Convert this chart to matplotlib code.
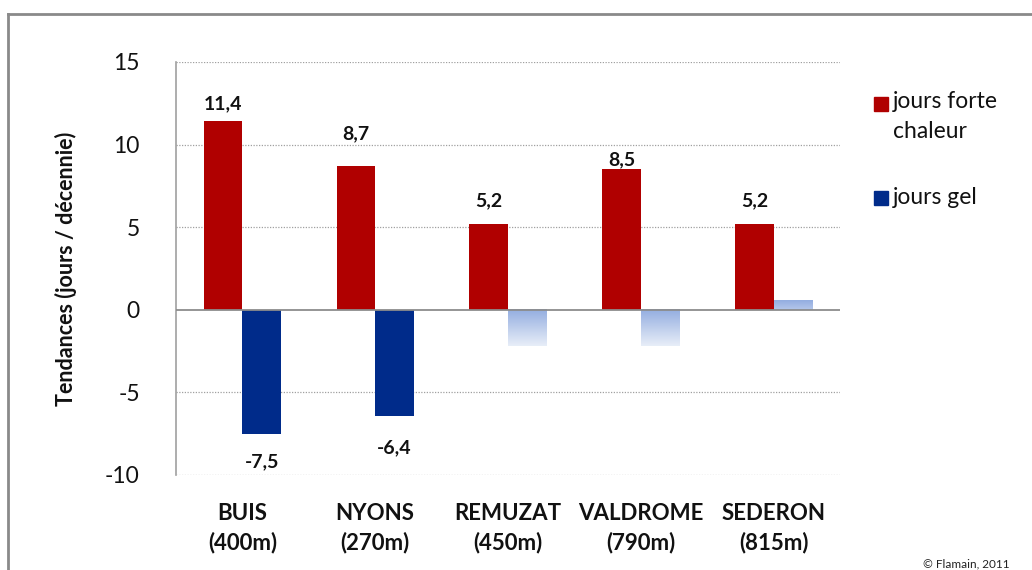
import numpy as np
import matplotlib
matplotlib.use("Agg")
import matplotlib.pyplot as plt
from matplotlib.patches import Rectangle
from matplotlib.lines import Line2D
from matplotlib.colors import LinearSegmentedColormap

plt.rcParams['font.family'] = ['Lato', 'DejaVu Sans']

categories = ["BUIS\n(400m)", "NYONS\n(270m)", "REMUZAT\n(450m)", "VALDROME\n(790m)", "SEDERON\n(815m)"]
chaleur = [11.4, 8.7, 5.2, 8.5, 5.2]
gel = [-7.5, -6.4, -2.2, -2.2, 0.6]
gel_significant = [True, True, False, False, False]
chaleur_labels = ["11,4", "8,7", "5,2", "8,5", "5,2"]
gel_labels = ["-7,5", "-6,4", "", "", ""]
# label offsets in points (vertical)
chaleur_label_off = [13, 23, 16.5, 7, 16.5]
gel_label_off = [-20, -23, 0, 0, 0]

RED = "#b00000"
BLUE = "#002b8a"

fig = plt.figure(figsize=(10.32, 5.70), dpi=100)
ax = fig.add_axes([0.1705, 0.1667, 0.6434, 0.7246])

x = np.arange(len(categories))
w = 0.29

for yv in [15, 10, 5, -5, -10]:
    ax.axhline(yv, color="#a0a0a0", lw=0.9, ls=(0, (1, 1.2)), zorder=0)
ax.axhline(0, color="#8c8c8c", lw=1.3, zorder=3)

ax.bar(x - w / 2, chaleur, width=w, color=RED, zorder=2)

grad = np.linspace(0, 1, 256).reshape(-1, 1)
cmap = LinearSegmentedColormap.from_list("g", ["#e8eef8", "#93ade0"])
for xi, v, sig in zip(x, gel, gel_significant):
    if sig:
        ax.bar(xi + w / 2, v, width=w, color=BLUE, zorder=2)
    else:
        x0, x1 = xi, xi + w
        if v < 0:
            ax.imshow(grad, extent=(x0, x1, v, 0), origin="lower", cmap=cmap,
                      aspect="auto", zorder=2)
        else:
            ax.imshow(grad, extent=(x0, x1, 0, v), origin="lower", cmap=cmap,
                      aspect="auto", zorder=2, vmin=-1.5, vmax=1)
ax.set_xlim(-0.5, len(categories) - 0.5)
ax.set_ylim(-10, 15)

for xi, v, lab, off in zip(x, chaleur, chaleur_labels, chaleur_label_off):
    ax.annotate(lab, (xi - w / 2, v), xytext=(0, off), textcoords="offset points",
                ha="center", va="center", fontsize=14, fontweight="bold", color="#111111")
for xi, v, lab, off in zip(x, gel, gel_labels, gel_label_off):
    if lab:
        ax.annotate(lab, (xi + w / 2, v), xytext=(0, off), textcoords="offset points",
                    ha="center", va="center", fontsize=14, fontweight="bold", color="#111111")

ax.set_xticks(x)
ax.set_xticklabels(categories, fontsize=16, fontweight="bold", color="#111111", linespacing=1.45)
ax.set_yticks([-10, -5, 0, 5, 10, 15])
ax.set_yticklabels(["-10", "-5", "0", "5", "10", "15"], fontsize=16.5, color="#111111")
ax.tick_params(axis="x", length=0, pad=20)
ax.tick_params(axis="y", length=0, pad=26)
for s in ["top", "right", "bottom"]:
    ax.spines[s].set_visible(False)
ax.spines["left"].set_color("#a0a0a0")
ax.spines["left"].set_linewidth(1.2)

ax.set_ylabel("Tendances (jours / décennie)", fontsize=15.5, fontweight="bold", color="#111111", labelpad=20)

# legend (manual)
fig.patches.append(Rectangle((874 / 1032, 1 - 111 / 570), 14 / 1032, 14 / 570,
                             transform=fig.transFigure, color=RED, figure=fig))
fig.text(893 / 1032, 1 - 91 / 570, "jours forte\nchaleur", fontsize=16.5, color="#111111",
         va="top", ha="left", linespacing=1.55)
fig.patches.append(Rectangle((874 / 1032, 1 - 205 / 570), 14 / 1032, 14 / 570,
                             transform=fig.transFigure, color=BLUE, figure=fig))
fig.text(893 / 1032, 1 - 197 / 570, "jours gel", fontsize=16.5, color="#111111",
         va="center", ha="left")

fig.text(1010 / 1032, 1 - 564 / 570, "© Flamain, 2011", fontsize=8.5, color="#222222",
         ha="right", va="center")

# outer frame
fig.add_artist(Line2D([8 / 1032, 8 / 1032], [0, 1 - 14 / 570], transform=fig.transFigure,
                      color="#8a8a8a", lw=2))
fig.add_artist(Line2D([8 / 1032, 1], [1 - 14 / 570, 1 - 14 / 570], transform=fig.transFigure,
                      color="#8a8a8a", lw=2))

fig.savefig("out.png", dpi=100)
